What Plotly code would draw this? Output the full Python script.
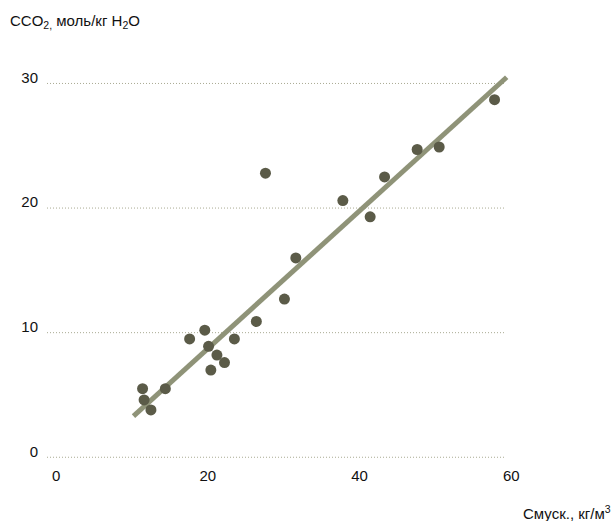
import plotly.graph_objects as go

# Data
c_susp = [11.4, 11.6, 12.5, 14.4, 17.6, 19.6, 20.1, 21.2, 20.4, 22.2, 23.5,
          26.4, 30.1, 31.6, 27.6, 37.8, 41.4, 43.3, 47.6, 50.5, 57.8]
c_co2 = [5.5, 4.6, 3.8, 5.5, 9.5, 10.2, 8.9, 8.2, 7.0, 7.6, 9.5,
         10.9, 12.7, 16.0, 22.8, 20.6, 19.3, 22.5, 24.7, 24.9, 28.7]
fit_x = [10.2, 59.4]
fit_y = [3.3, 30.5]
y_ticks = [0, 10, 20, 30]
x_ticks = [0, 20, 40, 60]
grid_x = [-1.2, 59.2]

FONT = "Liberation Sans, Arial, Helvetica, sans-serif"
MARKER = "#5b5b48"
LINE = "#8f9378"
GRID = "#a9aa92"

fig = go.Figure()
fig.add_trace(go.Scatter(x=fit_x, y=fit_y, mode="lines",
                         line=dict(color=LINE, width=5), hoverinfo="skip",
                         showlegend=False))
fig.add_trace(go.Scatter(x=c_susp, y=c_co2, mode="markers",
                         marker=dict(color=MARKER, size=11, line=dict(width=0)),
                         showlegend=False))

for yv in y_ticks:
    fig.add_shape(type="line", xref="x", yref="y", x0=grid_x[0], x1=grid_x[1],
                  y0=yv, y1=yv, line=dict(color=GRID, width=1, dash="1px,2px"),
                  layer="below")

fig.update_layout(
    width=615, height=521,
    margin=dict(l=47, r=103, t=71, b=60, autoexpand=False),
    paper_bgcolor="white", plot_bgcolor="white",
    font=dict(family=FONT, size=15, color="#111111"),
    xaxis=dict(range=[-1.2, 60.1], tickvals=x_ticks, showgrid=False,
               zeroline=False, showline=False, ticks="", ticklabelstandoff=4,
               automargin=False),
    yaxis=dict(range=[-0.3, 31], tickvals=y_ticks, showgrid=False,
               zeroline=False, showline=False, ticks="", ticklabelstandoff=8,
               ticklabelshift=-6, automargin=False),
    annotations=[
        dict(text="CCO<sub>2,</sub> моль/кг H<sub>2</sub>O", xref="paper", yref="paper",
             x=-0.0839, y=1.128, xanchor="left", yanchor="middle",
             showarrow=False, font=dict(size=15)),
        dict(text="Смуск., кг/м<sup>3</sup>", xref="paper", yref="paper",
             x=1.217, y=-0.131, xanchor="right", yanchor="middle",
             showarrow=False, font=dict(size=15)),
    ],
)

fig.write_html("out.html", config={"displayModeBar": False},
               post_script="document.body.style.margin='0';document.body.style.padding='0';")
